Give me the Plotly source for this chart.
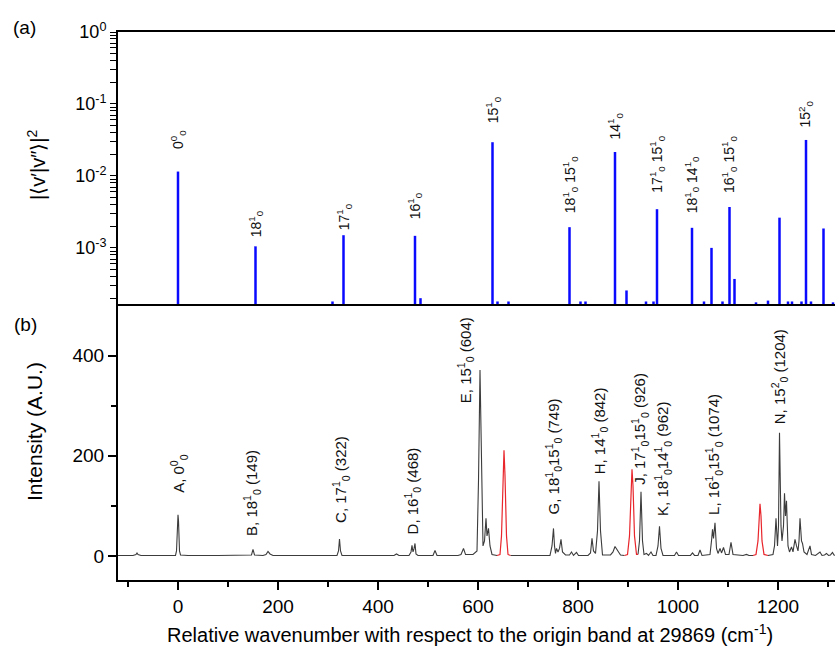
import math
import plotly.graph_objects as go

# ---------------- Panel (a): Franck-Condon factors ----------------
fc_x = [0, 155, 331, 474, 629, 783, 874, 958, 1028, 1067, 1103, 1203, 1256, 1291,
        309, 485, 639, 661, 805, 815, 897, 936, 951, 1052, 1089, 1113, 1156, 1180,
        1220, 1228, 1247, 1266, 1310]
fc_y = [0.0115, 1.05e-3, 1.5e-3, 1.47e-3, 0.0294, 1.94e-3, 0.0215, 3.45e-3, 1.9e-3,
        1.0e-3, 3.7e-3, 2.63e-3, 0.0316, 1.86e-3,
        1.8e-4, 2.0e-4, 1.8e-4, 1.8e-4, 1.8e-4, 1.8e-4, 2.56e-4, 1.8e-4, 1.8e-4,
        1.8e-4, 1.8e-4, 3.7e-4, 1.75e-4, 1.85e-4, 1.8e-4, 1.8e-4, 1.8e-4, 1.8e-4, 1.75e-4]

fc_label_x = [0, 155, 331, 474, 629, 783, 874, 958, 1028, 1103, 1256]
fc_label_y = [0.0115, 1.05e-3, 1.5e-3, 1.47e-3, 0.0294, 1.94e-3, 0.0215, 3.45e-3, 1.9e-3, 3.7e-3, 0.0316]
fc_label_text = [
    "0<sup>0</sup><sub>0</sub>",
    "18<sup>1</sup><sub>0</sub>",
    "17<sup>1</sup><sub>0</sub>",
    "16<sup>1</sup><sub>0</sub>",
    "15<sup>1</sup><sub>0</sub>",
    "18<sup>1</sup><sub>0</sub> 15<sup>1</sup><sub>0</sub>",
    "14<sup>1</sup><sub>0</sub>",
    "17<sup>1</sup><sub>0</sub> 15<sup>1</sup><sub>0</sub>",
    "18<sup>1</sup><sub>0</sub> 14<sup>1</sup><sub>0</sub>",
    "16<sup>1</sup><sub>0</sub> 15<sup>1</sup><sub>0</sub>",
    "15<sup>2</sup><sub>0</sub>",
]
fc_label_gap = [20, 7, 3, 14, 17, 12, 10, 14, 12, 12, 10]

fc_major = [1e-3, 1e-2, 1e-1, 1]
fc_major_text = ["10<sup>-3</sup>", "10<sup>-2</sup>", "10<sup>-1</sup>", "10<sup>0</sup>"]
fc_minor = [m * 10.0 ** e for e in (-4, -3, -2, -1) for m in range(2, 10)]

# ---------------- Panel (b): measured spectrum ----------------
spec_x = [-120, -90, -84, -82, -80, -74, -30, -5, -3, -1, 0, 1, 3, 5, 20, 80, 140, 147, 150, 153,
          170, 176, 180, 184, 190, 250, 300, 318, 321, 323, 325, 328, 400, 432, 437, 442,
          462, 466, 468, 470, 472, 474, 476, 480, 510, 514, 518, 560, 566, 571, 575,
          590, 598, 601, 604, 607, 610, 613, 616, 618, 621, 624, 628, 638, None,
          665, 700, 744, 748, 751, 753, 755, 757, 760, 763, 766, 769, 775, 783, 787, 791,
          797, 801, 820, 825, 828, 831, 835, 839, 842, 845, 849, 865, 870, 874, 879, 885, 893, None,
          920, 923, 926, 929, 932, 937, 941, 946, 950, 956, 960, 963, 966, 970, 993, 997,
          1001, 1025, 1029, 1033, 1040, 1044, 1048, 1064, 1067, 1069, 1071, 1074, 1077, 1080,
          1084, 1087, 1091, 1095, 1102, 1106, 1110, 1130, 1137, 1142, 1150, None,
          1180, 1190, 1193, 1196, 1199, 1201, 1203, 1206, 1208, 1211, 1213, 1215, 1217, 1220,
          1223, 1227, 1230, 1234, 1237, 1240, 1242, 1244, 1247, 1249, 1252, 1258, 1264, 1267,
          1275, 1284, 1288, 1293, 1297, 1301, 1305, 1309, 1312, 1316]
spec_y = [1, 1, 3, 6, 3, 1, 1, 1, 10, 70, 82, 70, 10, 2, 1, 1, 1, 2, 13, 2,
          1, 3, 9, 4, 1, 1, 1, 1, 10, 34, 10, 1, 1, 1, 4, 1,
          1, 8, 21, 8, 14, 25, 4, 1, 1, 11, 1, 1, 3, 15, 3,
          3, 10, 150, 371, 150, 20, 30, 75, 40, 55, 20, 3, 1, None,
          1, 1, 1, 20, 55, 20, 5, 15, 8, 15, 33, 8, 2, 2, 8, 1,
          7, 1, 1, 6, 35, 10, 5, 50, 149, 50, 2, 2, 8, 19, 10, 2, 1, None,
          3, 30, 128, 30, 3, 5, 1, 8, 1, 1, 20, 59, 15, 1, 1, 8,
          1, 1, 6, 1, 1, 12, 1, 3, 30, 53, 35, 66, 15, 5,
          15, 6, 17, 3, 3, 27, 3, 1, 3, 1, 1, None,
          1, 3, 20, 75, 20, 60, 246, 60, 30, 60, 125, 80, 110, 20,
          8, 18, 8, 33, 20, 10, 30, 75, 30, 25, 8, 3, 20, 3,
          1, 8, 1, 2, 5, 1, 2, 7, 2, 1]

red_x = [638, 644, 647, 650, 652, 654, 657, 660, 665, None,
         893, 899, 903, 906, 908, 910, 913, 917, 920, None,
         1150, 1156, 1160, 1162, 1164, 1166, 1168, 1172, 1180]
red_y = [1, 3, 40, 160, 211, 160, 40, 3, 1, None,
         1, 3, 40, 140, 173, 140, 40, 3, 3, None,
         1, 3, 30, 80, 104, 80, 30, 3, 1]

band_label_text = [
    "A, 0<sup>0</sup><sub>0</sub>",
    "B, 18<sup>1</sup><sub>0</sub> (149)",
    "C, 17<sup>1</sup><sub>0</sub> (322)",
    "D, 16<sup>1</sup><sub>0</sub> (468)",
    "E, 15<sup>1</sup><sub>0</sub> (604)",
    "G, 18<sup>1</sup><sub>0</sub>15<sup>1</sup><sub>0</sub> (749)",
    "H, 14<sup>1</sup><sub>0</sub> (842)",
    "J, 17<sup>1</sup><sub>0</sub>15<sup>1</sup><sub>0</sub> (926)",
    "K, 18<sup>1</sup><sub>0</sub>14<sup>1</sup><sub>0</sub> (962)",
    "L, 16<sup>1</sup><sub>0</sub>15<sup>1</sup><sub>0</sub> (1074)",
    "N, 15<sup>2</sup><sub>0</sub> (1204)",
]
band_label_x = [2, 147, 326, 468, 574, 751, 842, 924, 969, 1071, 1202]
band_label_y = [121, 35, 61, 38, 301, 78, 158, 138, 75, 78, 258]

x_tickvals = [0, 200, 400, 600, 800, 1000, 1200]

# ---------------- figure ----------------
FONT = "Liberation Sans, Arial, sans-serif"
fig = go.Figure()

stick_x, stick_y = [], []
for xv, yv in zip(fc_x, fc_y):
    stick_x += [xv, xv, None]
    stick_y += [1e-5, yv, None]
fig.add_trace(go.Scatter(x=stick_x, y=stick_y, mode="lines",
                         line=dict(color="#0a0aff", width=2.5),
                         xaxis="x2", yaxis="y2", showlegend=False, hoverinfo="skip"))

fig.add_trace(go.Scatter(x=spec_x, y=spec_y, mode="lines",
                         line=dict(color="#3c3c3c", width=1.1),
                         xaxis="x", yaxis="y", showlegend=False, connectgaps=False))
fig.add_trace(go.Scatter(x=red_x, y=red_y, mode="lines",
                         line=dict(color="#e8262c", width=1.2),
                         xaxis="x", yaxis="y", showlegend=False, connectgaps=False))

W, H = 835, 650
L, R, T, B = 118, 0, 32, 70
pw, ph = W - L - R, H - T - B


def px_ann(x, y, text, size, angle=0):
    return dict(x=(x - L) / pw, y=(H - B - y) / ph, xref="paper", yref="paper",
                xanchor="center", yanchor="middle", text=text, showarrow=False,
                textangle=angle, font=dict(family=FONT, size=size, color="black"))


annotations = []
for xv, yv, t, g in zip(fc_label_x, fc_label_y, fc_label_text, fc_label_gap):
    annotations.append(dict(x=xv, y=math.log10(yv), xref="x2", yref="y2", text=t,
                            textangle=-90, showarrow=False, xanchor="center", yanchor="bottom",
                            yshift=g, font=dict(family=FONT, size=14, color="#111111")))
for xv, yv, t in zip(band_label_x, band_label_y, band_label_text):
    annotations.append(dict(x=xv, y=yv, xref="x", yref="y", text=t,
                            textangle=-90, showarrow=False, xanchor="center", yanchor="bottom",
                            font=dict(family=FONT, size=15, color="#111111")))

annotations += [
    px_ann(24, 27, "(a)", 19),
    px_ann(25, 324, "(b)", 19),
    px_ann(36, 165, "|\u27e8v\u2032|v\u2033\u27e9|<sup>2</sup>", 20, -90),
    px_ann(34, 432, "Intensity (A.U.)", 21, -90),
    px_ann(470, 633, "Relative wavenumber with respect to the origin band at 29869 (cm<sup>-1</sup>)", 20),
]

split = 276 / 548
log_range = [math.log10(1.66e-4), 0]
fig.update_layout(
    width=W, height=H,
    margin=dict(l=L, r=R, t=T, b=B),
    plot_bgcolor="white", paper_bgcolor="white",
    font=dict(family=FONT, size=18, color="black"),
    annotations=annotations,
    xaxis=dict(domain=[0, 1], anchor="y", range=[-120, 1314], showline=True, linecolor="black",
               linewidth=2, ticks="outside", ticklen=8, tickwidth=1.5, tickcolor="black",
               tickvals=x_tickvals, showgrid=False, zeroline=False,
               tickfont=dict(family=FONT, size=19),
               minor=dict(tickvals=[-100, 100, 300, 500, 700, 900, 1100, 1300], ticks="outside",
                          ticklen=5, tickwidth=1.5, tickcolor="black")),
    yaxis=dict(domain=[0, split], anchor="x", range=[-48, 503], showline=True, linecolor="black",
               linewidth=2, ticks="outside", ticklen=8, tickwidth=1.5, tickcolor="black",
               tickvals=[0, 200, 400], showgrid=False, zeroline=False,
               tickfont=dict(family=FONT, size=19),
               minor=dict(tickvals=[100, 300], ticks="outside", ticklen=5, tickwidth=1.5,
                          tickcolor="black")),
    xaxis2=dict(domain=[0, 1], anchor="y2", range=[-120, 1314], showline=True, mirror=True,
                linecolor="black", linewidth=2, ticks="", showticklabels=False,
                showgrid=False, zeroline=False),
    yaxis2=dict(domain=[split, 1], anchor="x2", type="log", range=log_range,
                showline=True, linecolor="black", linewidth=2, ticks="outside", ticklen=6,
                tickwidth=1.3, tickcolor="black", tickmode="array",
                tickvals=fc_major + fc_minor,
                ticktext=fc_major_text + [""] * len(fc_minor),
                showgrid=False, zeroline=False,
                tickfont=dict(family=FONT, size=18)),
)

fig.write_html("out.html")
